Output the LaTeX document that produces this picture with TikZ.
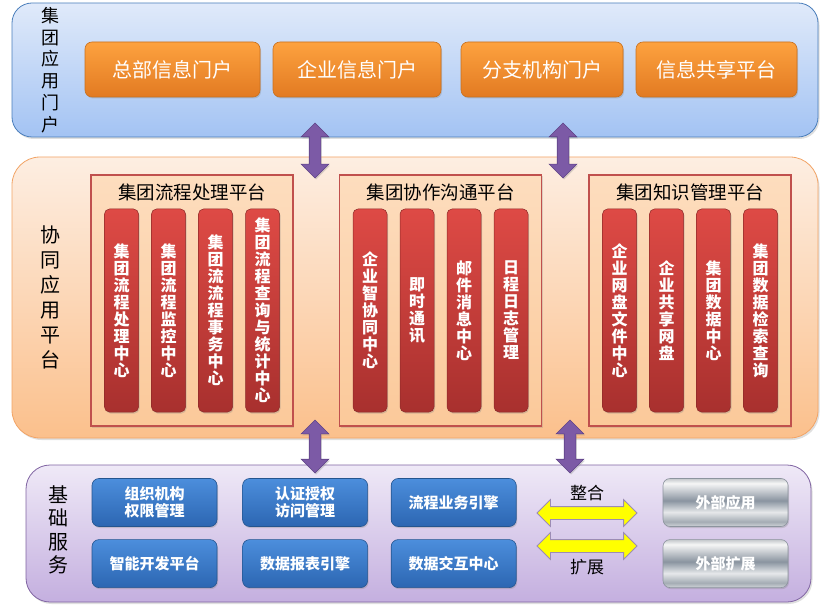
\documentclass[tikz,border=0pt]{standalone}
\usepackage{fontspec}
\setmainfont{Noto Sans CJK SC}
\usepackage{tikz}
\usetikzlibrary{shapes.arrows,shadows,positioning,calc}
\definecolor{appline}{HTML}{4A7EBB}
\definecolor{apptop}{HTML}{E0EAFA}
\definecolor{appbot}{HTML}{A3C3F3}
\definecolor{orgtop}{HTML}{FDA23F}
\definecolor{orgbot}{HTML}{E27A22}
\definecolor{orgline}{HTML}{C8701F}
\definecolor{midtop}{HTML}{FDEEE2}
\definecolor{midbot}{HTML}{FBC08C}
\definecolor{midline}{HTML}{F2A466}
\definecolor{plattop}{HTML}{FDDDBE}
\definecolor{platbot}{HTML}{FBC99A}
\definecolor{platline}{HTML}{C0504D}
\definecolor{coltop}{HTML}{DE4A45}
\definecolor{colbot}{HTML}{A8302E}
\definecolor{colline}{HTML}{8C2A28}
\definecolor{arrfill}{HTML}{7C5AA6}
\definecolor{arrline}{HTML}{5E4287}
\definecolor{bastop}{HTML}{EFE9F7}
\definecolor{basbot}{HTML}{C4AFDF}
\definecolor{basline}{HTML}{8064A2}
\definecolor{svctop}{HTML}{4C8EDC}
\definecolor{svcbot}{HTML}{2C66B2}
\definecolor{svcline}{HTML}{25558F}
\definecolor{swapfill}{HTML}{FFFF00}
\definecolor{swapline}{HTML}{9C8CB4}
\definecolor{metA}{HTML}{D0D4D8}
\definecolor{metB}{HTML}{A4ACB4}
\definecolor{metC}{HTML}{E6E8EA}
\definecolor{metD}{HTML}{8A94A0}
\definecolor{metE}{HTML}{F6F6F6}
\definecolor{metF}{HTML}{C4C8CC}
\definecolor{metline}{HTML}{8C949E}
\pgfdeclareverticalshading{metal}{100bp}{color(0bp)=(metA); color(25bp)=(metA);
  color(30bp)=(metB); color(40bp)=(metC); color(52bp)=(metD); color(70bp)=(metE);
  color(75bp)=(metF); color(100bp)=(metF)}
\tikzset{
  zone/.style     ={line width=0.8pt,drop shadow={opacity=0.25,shadow xshift=1.5pt,shadow yshift=-2pt}},
  sidelabel/.style={align=center,text=black,inner sep=0pt},
  portal/.style   ={rounded corners=7pt,draw=orgline,line width=0.6pt,top color=orgtop,
                    bottom color=orgbot,minimum height=55pt,text=white,
                    font=\fontsize{20}{24}\selectfont,
                    drop shadow={opacity=0.3,shadow xshift=1pt,shadow yshift=-1.5pt}},
  plat/.style     ={draw=platline,line width=1.2pt,top color=plattop,bottom color=platbot,
                    minimum width=202pt,minimum height=251pt,inner sep=0pt,
                    drop shadow={opacity=0.25,shadow xshift=1pt,shadow yshift=-1.5pt}},
  plattitle/.style={text=black,inner sep=0pt,font=\fontsize{18.5}{20}\selectfont},
  col/.style      ={rounded corners=5pt,draw=colline,line width=0.5pt,top color=coltop,
                    bottom color=colbot,minimum width=34pt,minimum height=203pt,inner sep=0pt,
                    text=white,align=center,font=\bfseries\fontsize{16}{17}\selectfont,
                    drop shadow={opacity=0.3,shadow xshift=1pt,shadow yshift=-1.5pt}},
  svc/.style      ={rounded corners=7pt,draw=svcline,line width=0.6pt,top color=svctop,
                    bottom color=svcbot,minimum width=125pt,minimum height=48pt,inner sep=0pt,
                    text=white,align=center,font=\bfseries\fontsize{15}{16.7}\selectfont,
                    drop shadow={opacity=0.3,shadow xshift=1pt,shadow yshift=-1.5pt}},
  ext/.style      ={rounded corners=7pt,draw=metline,line width=0.6pt,shading=metal,
                    minimum width=125pt,minimum height=48pt,inner sep=0pt,
                    text=white,font=\bfseries\fontsize{15}{16.7}\selectfont,
                    drop shadow={opacity=0.3,shadow xshift=1pt,shadow yshift=-1.5pt}},
  updown/.style   ={double arrow,draw=arrline,fill=arrfill,line width=0.6pt,sloped,
                    inner xsep=0pt,inner ysep=5.5pt,double arrow head extend=8pt,
                    double arrow tip angle=90,
                    drop shadow={opacity=0.3,shadow xshift=1pt,shadow yshift=-1.5pt}},
  swap/.style     ={double arrow,draw=swapline,fill=swapfill,line width=0.8pt,sloped,
                    inner xsep=0pt,inner ysep=6pt,double arrow head extend=7pt,
                    double arrow tip angle=90},
  note/.style     ={text=black,inner sep=0pt,font=\fontsize{17}{20}\selectfont}
}
\begin{document}
\begin{tikzpicture}[x=1pt,y=-1pt]
\useasboundingbox (0,0) rectangle (826,612);
% 集团应用门户
\node[zone,top color=apptop,bottom color=appbot,draw=appline,rounded corners=20pt,
      minimum width=806pt,minimum height=134pt] (apps) at (415,70) {};
\node[sidelabel,font=\fontsize{18}{21.7}\selectfont] (appsname) at (50,70) {集\\团\\应\\用\\门\\户};
\node[portal,minimum width=175pt] (hq) at (172.5,69.5) {总部信息门户};
\node[portal,minimum width=168pt] (ent) at (357,69.5) {企业信息门户};
\node[portal,minimum width=162pt] (branch) at (542,69.5) {分支机构门户};
\node[portal,minimum width=161pt] (share) at (716.5,69.5) {信息共享平台};

% 协同应用平台
\node[zone,top color=midtop,bottom color=midbot,draw=midline,rounded corners=28pt,
      minimum width=806pt,minimum height=281pt] (collab) at (415,297.5) {};
\node[sidelabel,font=\fontsize{20}{25}\selectfont] (collabname) at (50,297) {协\\同\\应\\用\\平\\台};
\foreach \p/\cx/\title in {proc/192/集团流程处理平台,talk/440.5/集团协作沟通平台,know/690/集团知识管理平台}{
  \node[plat] (\p) at (\cx,300.5) {};
  \node[plattitle] (\p title) at ($(\p.north)+(0,18)$) {\title};
}
\foreach \txt [count=\i] in {{集\\团\\流\\程\\处\\理\\中\\心},{集\\团\\流\\程\\监\\控\\中\\心},
    {集\\团\\流\\流\\程\\事\\务\\中\\心},{集\\团\\流\\程\\查\\询\\与\\统\\计\\中\\心}}
  \node[col] (proc\i) at ($(proc.center)+(-117.5+47*\i,10)$) {\txt};
\foreach \txt [count=\i] in {{企\\业\\智\\协\\同\\中\\心},{即\\时\\通\\讯},
    {邮\\件\\消\\息\\中\\心},{日\\程\\日\\志\\管\\理}}
  \node[col] (talk\i) at ($(talk.center)+(-117.5+47*\i,10)$) {\txt};
\foreach \txt [count=\i] in {{企\\业\\网\\盘\\文\\件\\中\\心},{企\\业\\共\\享\\网\\盘},
    {集\\团\\数\\据\\中\\心},{集\\团\\数\\据\\检\\索\\查\\询}}
  \node[col] (know\i) at ($(know.center)+(-117.5+47*\i,10)$) {\txt};

% 基础服务
\node[zone,top color=bastop,bottom color=basbot,draw=basline,rounded corners=24pt,
      minimum width=785pt,minimum height=137pt] (base) at (418.5,533.5) {};
\node[sidelabel,font=\fontsize{20}{23.5}\selectfont] (basename) at (58,530) {基\\础\\服\\务};
\node[svc] (org) at (154.5,502.5) {组织机构\\权限管理};
\node[svc,right=25pt of org] (auth) {认证授权\\访问管理};
\node[svc,right=23pt of auth] (engine) {流程业务引擎};
\node[svc,below=12.5pt of org] (dev) {智能开发平台};
\node[svc,below=12.5pt of auth] (report) {数据报表引擎};
\node[svc,below=12.5pt of engine] (xchg) {数据交互中心};
\node[ext] (extapp) at (725.5,502.5) {外部应用};
\node[ext,below=12.5pt of extapp] (extmore) {外部扩展};
\coordinate (mrgL) at (537,513);
\coordinate (mrgR) at (637,513);
\coordinate (expL) at (537,546);
\coordinate (expR) at (637,546);
\path (mrgL) -- node[swap,minimum height=100pt] (mrg) {} (mrgR);
\path (expL) -- node[swap,minimum height=100pt] (exp) {} (expR);
\node[note] (mrgname) at (587,493) {整合};
\node[note] (expname) at (587,567) {扩展};

% 层间箭头
\coordinate (upA) at (315,123);
\coordinate (upB) at (315,178);
\coordinate (upC) at (563,123);
\coordinate (upD) at (563,178);
\coordinate (dnA) at (315,420);
\coordinate (dnB) at (315,473);
\coordinate (dnC) at (570,420);
\coordinate (dnD) at (570,473);
\path (upA) -- node[updown,minimum height=55pt] (link1) {} (upB);
\path (upC) -- node[updown,minimum height=55pt] (link2) {} (upD);
\path (dnA) -- node[updown,minimum height=53pt] (link3) {} (dnB);
\path (dnC) -- node[updown,minimum height=53pt] (link4) {} (dnD);
\end{tikzpicture}
\end{document}
